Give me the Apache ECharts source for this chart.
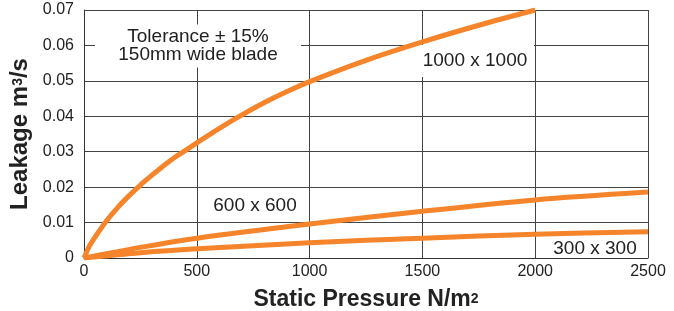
<!DOCTYPE html>
<html>
<head>
<meta charset="utf-8">
<script src="https://cdn.jsdelivr.net/npm/echarts@6/dist/echarts.min.js"></script>
<style>
  html, body { margin: 0; padding: 0; background: #fff; }
  #chart { width: 674px; height: 311px; }
</style>
</head>
<body>
<div id="chart"></div>
<script>
// values
var pressure1000 = [0, 25, 50, 100, 150, 200, 250, 300, 350, 400, 450, 500, 600, 700, 800, 900, 1000, 1250, 1500, 1750, 2000];
var leakage1000 = [0, 0.0035, 0.006, 0.0105, 0.0143, 0.0176, 0.0206, 0.0233, 0.0259, 0.0283, 0.0304, 0.0325, 0.0366, 0.0404, 0.0439, 0.047, 0.0498, 0.0558, 0.061, 0.0657, 0.07];
var pressure600 = [0, 250, 500, 1000, 1500, 2000, 2500];
var leakage600 = [0, 0.003, 0.0056, 0.0096, 0.0132, 0.0164, 0.0186];
var pressure300 = [0, 250, 500, 1000, 1500, 2000, 2500];
var leakage300 = [0, 0.0015, 0.0026, 0.0043, 0.0056, 0.0067, 0.0074];

var font = '"Liberation Sans", Arial, sans-serif';
var orange = '#f5842a';

function pairs (xs, ys) {
  return xs.map(function (x, i) { return [x, ys[i]] })
}

function curve (name, data) {
  return {
    name: name,
    type: 'line',
    data: data,
    smooth: 0.3,
    symbol: 'none',
    z: 5,
    lineStyle: { color: orange, width: 5 }
  }
}

function label (text, cx, cy, w, h) {
  return [
    { type: 'rect', z: 1, shape: { x: cx - w / 2, y: cy - h / 2, width: w, height: h }, style: { fill: '#fff' } },
    { type: 'text', z: 2, x: cx, y: cy, style: { text: text, fill: '#222', font: '19px ' + font, align: 'center', verticalAlign: 'middle', lineHeight: 18 } }
  ]
}

var myChart = echarts.init(document.getElementById('chart'))
var option = {
  backgroundColor: '#fff',
  animation: false,
  grid: { left: 84, right: 26, top: 10, bottom: 53, outerBoundsMode: 'none', containLabel: false },
  xAxis: {
    type: 'value',
    min: 0,
    max: 2500,
    interval: 500,
    name: 'Static Pressure N/m{sup|2}',
    nameLocation: 'middle',
    nameGap: 30,
    nameTextStyle: {
      color: '#222', fontFamily: font, fontSize: 23, fontWeight: 'bold',
      rich: { sup: { fontSize: 14, fontWeight: 'bold', color: '#222', fontFamily: font, verticalAlign: 'bottom', padding: [0, 0, 5, 0] } }
    },
    axisLine: { lineStyle: { color: '#333', width: 1 } },
    axisTick: { show: false },
    axisLabel: { color: '#222', fontFamily: font, fontSize: 16, margin: 6, formatter: function (v) { return String(v) } },
    splitLine: { show: true, lineStyle: { color: '#444', width: 1 } }
  },
  yAxis: {
    type: 'value',
    min: 0,
    max: 0.07,
    interval: 0.01,
    name: 'Leakage m{sup|3}/s',
    nameLocation: 'middle',
    nameGap: 49,
    nameRotate: 90,
    nameTextStyle: {
      color: '#222', fontFamily: font, fontSize: 24, fontWeight: 'bold',
      rich: { sup: { fontSize: 14, fontWeight: 'bold', color: '#222', fontFamily: font, verticalAlign: 'bottom', padding: [0, 0, 7, 0] } }
    },
    axisLine: { show: true, lineStyle: { color: '#333', width: 1 } },
    axisTick: { show: false },
    axisLabel: {
      color: '#222', fontFamily: font, fontSize: 16, margin: 10,
      formatter: function (v) { return v === 0 ? '0' : v.toFixed(2) }
    },
    splitLine: { show: true, lineStyle: { color: '#444', width: 1 } }
  },
  series: [
    curve('1000 x 1000', pairs(pressure1000, leakage1000)),
    curve('600 x 600', pairs(pressure600, leakage600)),
    curve('300 x 300', pairs(pressure300, leakage300))
  ],
  graphic: [].concat(
    label('Tolerance \u00b1 15%\n150mm wide blade', 198, 46, 206, 43),
    label('1000 x 1000', 475, 61, 118, 32),
    label('600 x 600', 255, 206, 100, 28),
    label('300 x 300', 595, 249, 88, 16)
  )
}
myChart.setOption(option)
</script>
</body>
</html>
